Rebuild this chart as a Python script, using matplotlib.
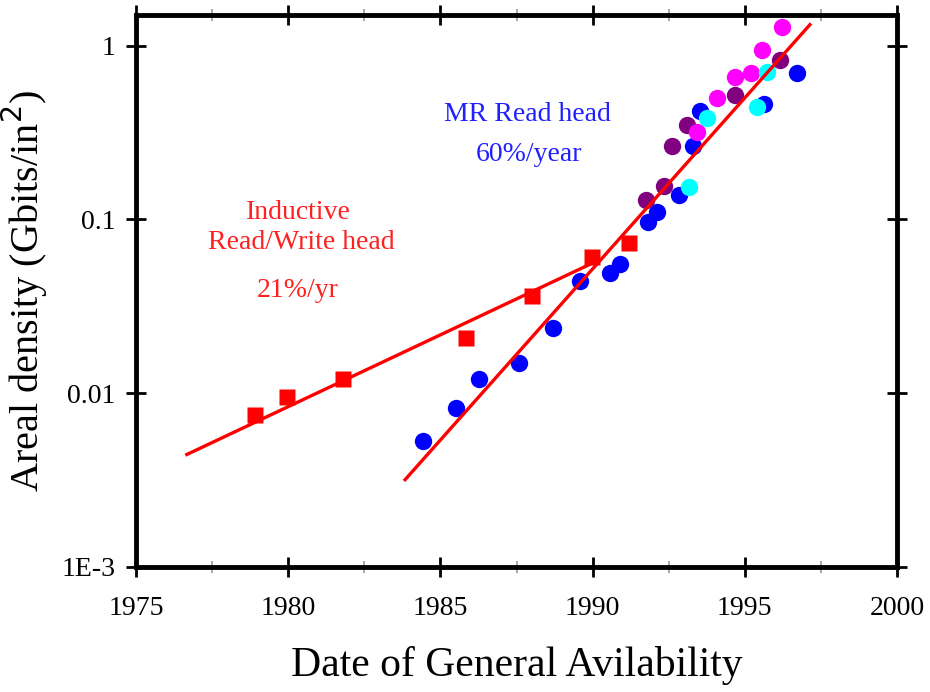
import matplotlib
matplotlib.use("Agg")
import matplotlib.pyplot as plt
from matplotlib.ticker import FixedLocator, MultipleLocator

plt.rcParams['font.family'] = ['Liberation Serif', 'DejaVu Serif']

# Inductive read/write head products
ind_year = [1978.91, 1979.97, 1981.81, 1985.84, 1988.0, 1989.97, 1991.2]
ind_density = [0.00753, 0.00948, 0.0120, 0.0209, 0.0364, 0.0605, 0.0727]

# MR read head products, grouped by marker colour
mr_blue_year = [1984.43, 1985.51, 1986.28, 1987.59, 1988.69, 1989.59, 1990.57,
                1990.90, 1991.82, 1992.12, 1992.84, 1993.30, 1993.53, 1995.63, 1996.71]
mr_blue_density = [0.00528, 0.00822, 0.0120, 0.0150, 0.0237, 0.0444, 0.0494,
                   0.0557, 0.0961, 0.1097, 0.1377, 0.264, 0.421, 0.462, 0.698]

mr_purple_year = [1991.75, 1992.35, 1992.61, 1993.10, 1994.68, 1996.16]
mr_purple_density = [0.129, 0.155, 0.264, 0.349, 0.521, 0.830]

mr_cyan_year = [1993.17, 1993.76, 1995.40, 1995.73]
mr_cyan_density = [0.153, 0.384, 0.444, 0.707]

mr_magenta_year = [1993.42, 1994.08, 1994.68, 1995.20, 1995.56, 1996.22]
mr_magenta_density = [0.318, 0.500, 0.662, 0.698, 0.948, 1.288]

# Growth-rate trend lines (end points)
ind_fit_year = [1976.67, 1990.0]
ind_fit_density = [0.00444, 0.0561]
mr_fit_year = [1983.84, 1997.14]
mr_fit_density = [0.00318, 1.32]

x_ticks = [1975, 1980, 1985, 1990, 1995, 2000]
y_ticks = [1e-3, 0.01, 0.1, 1]
y_tick_labels = ['1E-3', '0.01', '0.1', '1']

fig = plt.figure(figsize=(9.30, 6.92), dpi=100)
ax = fig.add_axes([136 / 930, 1 - 567 / 692, (897 - 136) / 930, (567 - 15) / 692])

ms = 12.5
ax.plot(mr_blue_year, mr_blue_density, 'o', color='#0000FF', ms=ms, mec='none', zorder=3)
ax.plot(mr_purple_year, mr_purple_density, 'o', color='#800080', ms=ms, mec='none', zorder=4)
ax.plot(mr_cyan_year, mr_cyan_density, 'o', color='#00FFFF', ms=ms, mec='none', zorder=5)
ax.plot(mr_magenta_year, mr_magenta_density, 'o', color='#FF00FF', ms=ms, mec='none', zorder=4)
ax.plot(ind_year, ind_density, 's', color='#FF0000', ms=12, mec='none', zorder=3)

ax.plot(ind_fit_year, ind_fit_density, '-', color='#FF0000', lw=2.4, zorder=6)
ax.plot(mr_fit_year, mr_fit_density, '-', color='#FF0000', lw=2.4, zorder=6)

ax.set_yscale('log')
ax.set_xlim(1975, 2000)
ax.set_ylim(1e-3, 1.5)

ax.xaxis.set_major_locator(FixedLocator(x_ticks))
ax.xaxis.set_minor_locator(MultipleLocator(2.5))
ax.set_yticks(y_ticks)
ax.set_yticklabels(y_tick_labels)
ax.yaxis.set_minor_locator(FixedLocator([]))

ax.tick_params(axis='both', which='major', labelsize=20, length=9, width=2, color='black',
               top=True, right=True)
ax.tick_params(axis='x', which='major', direction='inout', length=14, pad=14)
ax.tick_params(axis='x', which='minor', direction='inout', length=8, width=1.2,
               top=True, color='#999999')
ax.tick_params(axis='y', which='major', direction='inout', length=14, pad=8)

for side in ax.spines.values():
    side.set_linewidth(3.5)
    side.set_color('black')

ax.set_xlabel('Date of General Avilability', fontsize=30, labelpad=18)
ax.set_ylabel('Areal density (Gbits/in$^2$)', fontsize=29)
ax.yaxis.set_label_coords(-0.113, 0.5)

ax.text(1980.33, 0.109, 'Inductive', color='#FF2020', fontsize=20,
        ha='center', va='center')
ax.text(1980.42, 0.074, 'Read/Write head', color='#FF2020', fontsize=20,
        ha='center', va='center')
ax.text(1980.3, 0.039, '21%/yr', color='#FF2020', fontsize=20,
        ha='center', va='center')

ax.text(1987.85, 0.403, 'MR Read head', color='#2020FF', fontsize=20,
        ha='center', va='center')
ax.text(1987.9, 0.236, '60%/year', color='#2020FF', fontsize=20,
        ha='center', va='center')

fig.savefig('out.png', dpi=100)
